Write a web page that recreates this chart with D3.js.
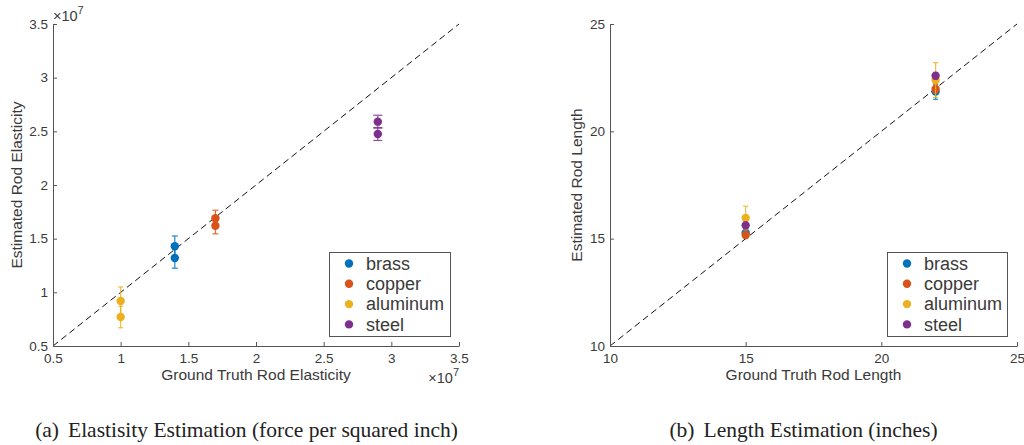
<!DOCTYPE html>
<html>
<head>
<meta charset="utf-8">
<script src="https://cdn.jsdelivr.net/npm/d3@7"></script>
<style>
  html, body { margin: 0; padding: 0; background: #fff; }
  svg { display: block; }
  .tick text, .lbl { font-family: "Liberation Sans", Arial, Helvetica, sans-serif; fill: #3a3a3a; }
  .caption { font-family: "Liberation Serif", "Times New Roman", serif; fill: #222; }
</style>
</head>
<body>
<svg id="fig" width="1024" height="445"></svg>
<script>
// Materials and their colours
const materials = ["brass", "copper", "aluminum", "steel"];
const colors = ["#0072BD", "#D95319", "#EDB120", "#7E2F8E"];

// (a) elasticity, in units of 1e7 (force per squared inch)
const elasticityExp = 7;
const elasticityTicks = [0.5, 1, 1.5, 2, 2.5, 3, 3.5];
const elasticityTruth = [1.4, 1.7, 1.0, 2.9];
const elasticityEst = [[1.43, 1.32], [1.69, 1.62], [0.92, 0.77], [2.59, 2.475]];
const elasticityErr = [[0.095, 0.095], [0.075, 0.075], [0.13, 0.10], [0.06, 0.06]];

// (b) length, inches
const lengthTicks = [10, 15, 20, 25];
const lengthTruth = [15, 22];
const lengthEst = [[15.28, 21.85], [15.17, 21.97], [15.96, 22.39], [15.62, 22.59]];
const lengthErr = [[0.2, 0.36], [0.15, 0.2], [0.55, 0.81], [0.15, 0.15]];

const captionA = ["(a)", "Elastisity Estimation (force per squared inch)"];
const captionB = ["(b)", "Length Estimation (inches)"];

const svg = d3.select("#fig");

function panel(opts) {
  const { domain, ticks, left, right, top, bottom, xTitle, yTitle, points, fmt, exponent, caps, yTitleX, legendBox } = opts;
  const x = d3.scaleLinear().domain(domain).range([left, right]);
  const y = d3.scaleLinear().domain(domain).range([bottom, top]);
  const g = svg.append("g");

  // identity reference line
  g.append("line")
    .attr("x1", x(domain[0])).attr("y1", y(domain[0]))
    .attr("x2", x(domain[1])).attr("y2", y(domain[1]))
    .attr("stroke", "#111").attr("stroke-width", 1)
    .attr("stroke-dasharray", "6.5,4");

  // axes with inward ticks
  const xAxis = d3.axisBottom(x).tickValues(ticks).tickFormat(fmt).tickSizeInner(-4).tickSizeOuter(0).tickPadding(9);
  const yAxis = d3.axisLeft(y).tickValues(ticks).tickFormat(fmt).tickSizeInner(-4).tickSizeOuter(0).tickPadding(9);
  const gx = g.append("g").attr("transform", `translate(0,${bottom})`).call(xAxis);
  const gy = g.append("g").attr("transform", `translate(${left},0)`).call(yAxis);
  [gx, gy].forEach(a => {
    a.select(".domain").attr("stroke", "#555");
    a.selectAll(".tick line").attr("stroke", "#555");
    a.selectAll(".tick text").attr("font-size", 13.5).attr("fill", "#3a3a3a");
  });
  gx.selectAll(".tick text").attr("dy", "0.71em").attr("y", 7);
  gy.selectAll(".tick text").attr("x", -5);

  // axis titles
  g.append("text").attr("class", "lbl")
    .attr("x", (left + right) / 2).attr("y", bottom + 34)
    .attr("text-anchor", "middle").attr("font-size", 15.5).text(xTitle);
  g.append("text").attr("class", "lbl")
    .attr("transform", `translate(${yTitleX},${(top + bottom) / 2}) rotate(-90)`)
    .attr("text-anchor", "middle").attr("dy", "0.35em").attr("font-size", 15.5).text(yTitle);

  // exponent markers
  if (exponent) {
    const t1 = g.append("text").attr("class", "lbl").attr("x", left).attr("y", top - 3).attr("font-size", 14.5);
    t1.append("tspan").text("×10");
    t1.append("tspan").attr("dy", -7).attr("font-size", 11).text(exponent);
    const t2 = g.append("text").attr("class", "lbl").attr("x", right).attr("y", bottom + 37)
      .attr("text-anchor", "end").attr("font-size", 14.5);
    t2.append("tspan").text("×10");
    t2.append("tspan").attr("dy", -7).attr("font-size", 11).text(exponent);
  }

  // error bars and markers, one series at a time
  points.forEach((s, i) => {
    const sg = g.append("g");
    const col = colors[i];
    const cw = caps[i];
    s.forEach(p => {
      const bar = sg.append("g").attr("stroke", col).attr("stroke-width", 1.2).attr("opacity", 0.85);
      bar.append("line").attr("x1", x(p.x)).attr("x2", x(p.x)).attr("y1", y(p.y - p.e)).attr("y2", y(p.y + p.e));
      [p.y - p.e, p.y + p.e].forEach(v => {
        bar.append("line").attr("x1", x(p.x) - cw).attr("x2", x(p.x) + cw).attr("y1", y(v)).attr("y2", y(v));
      });
    });
    sg.selectAll("circle").data(s).join("circle")
      .attr("cx", d => x(d.x)).attr("cy", d => y(d.y)).attr("r", 4.2).attr("fill", col);
  });

  // legend
  const lg = g.append("g");
  lg.append("rect").attr("x", legendBox[0] + 0.5).attr("y", legendBox[1] + 0.5)
    .attr("width", legendBox[2]).attr("height", legendBox[3])
    .attr("fill", "#fff").attr("stroke", "#555").attr("stroke-width", 1);
  materials.forEach((m, i) => {
    const cy = legendBox[1] + 11.5 + i * 20.3;
    lg.append("circle").attr("cx", legendBox[0] + 20).attr("cy", cy).attr("r", 4.2).attr("fill", colors[i]);
    lg.append("text").attr("class", "lbl").attr("x", legendBox[0] + 37).attr("y", cy)
      .attr("dy", "0.35em").attr("font-size", 18).attr("fill", "#222").text(m);
  });
}

function toPoints(truthFor, est, err) {
  return est.map((vals, i) => vals.map((v, j) => ({ x: truthFor(i, j), y: v, e: err[i][j] })));
}

panel({
  domain: [0.5, 3.5], ticks: elasticityTicks,
  left: 53, right: 459, top: 24, bottom: 346,
  xTitle: "Ground Truth Rod Elasticity", yTitle: "Estimated Rod Elasticity",
  fmt: d3.format("~g"), exponent: String(elasticityExp),
  points: toPoints((i) => elasticityTruth[i], elasticityEst, elasticityErr),
  caps: [3, 3, 2.5, 4.5], yTitleX: 17, legendBox: [329, 252, 121, 84]
});

panel({
  domain: [10, 25], ticks: lengthTicks,
  left: 610, right: 1017, top: 24, bottom: 346,
  xTitle: "Ground Truth Rod Length", yTitle: "Estimated Rod Length",
  fmt: d3.format("d"), exponent: null,
  points: toPoints((i, j) => lengthTruth[j], lengthEst, lengthErr),
  caps: [2.5, 2.5, 2.5, 2.5], yTitleX: 577, legendBox: [887, 252, 120, 84]
});

// sub-figure captions
function caption(parts, cx) {
  const t = svg.append("text").attr("class", "caption").attr("x", cx).attr("y", 437)
    .attr("text-anchor", "middle").attr("font-size", 21.5);
  t.append("tspan").text(parts[0]);
  t.append("tspan").attr("dx", 9).text(parts[1]);
}
caption(captionA, 246.5);
caption(captionB, 803.5);
</script>
</body>
</html>
